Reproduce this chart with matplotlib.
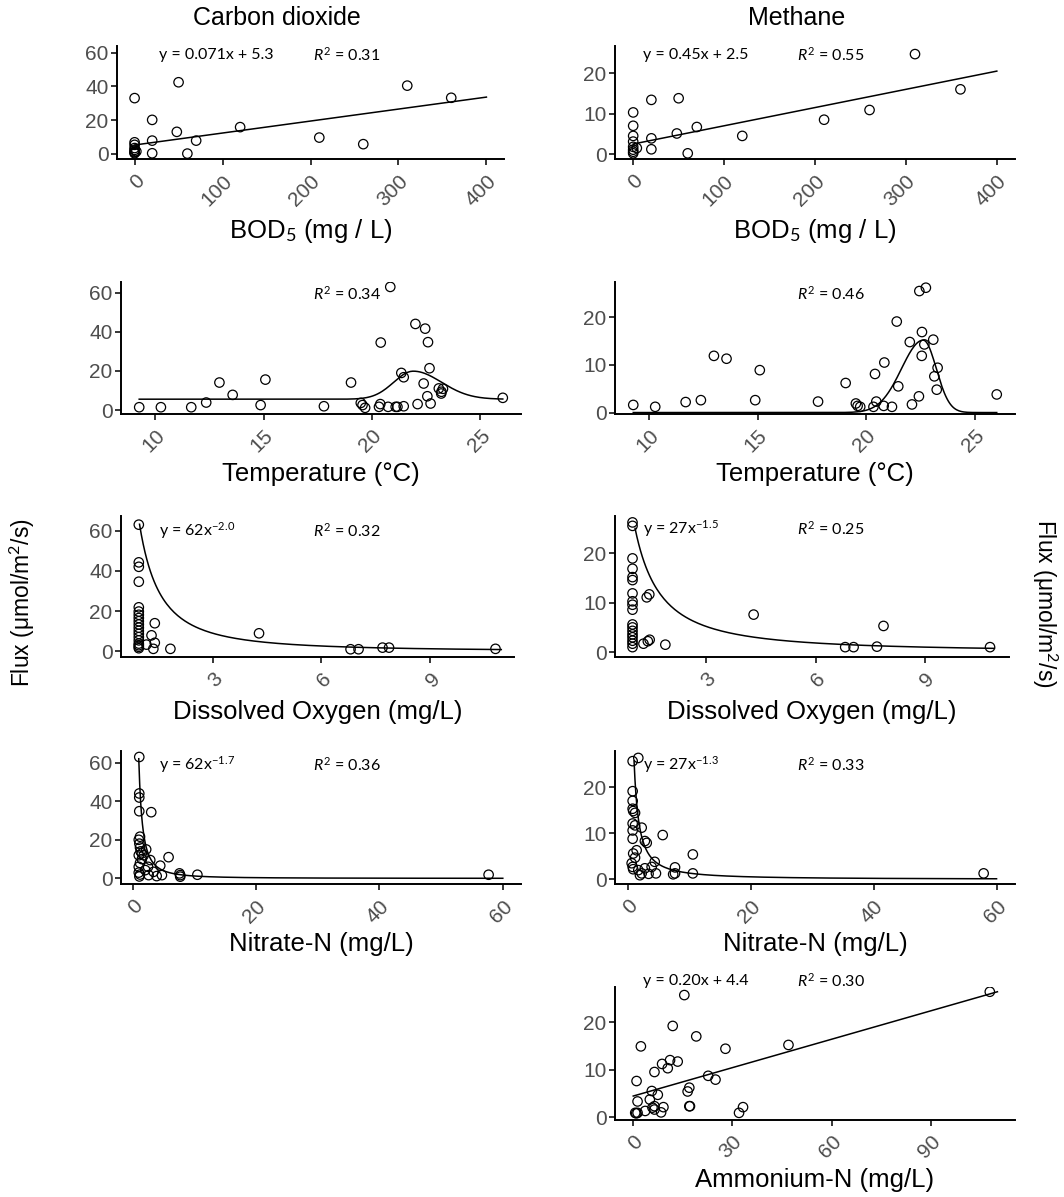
import numpy as np
import matplotlib.pyplot as plt

plt.rcParams['font.family'] = ['Liberation Sans', 'DejaVu Sans']
plt.rcParams['mathtext.fontset'] = 'custom'
plt.rcParams['mathtext.rm'] = 'Lato'
plt.rcParams['mathtext.it'] = 'Lato:italic'
plt.rcParams['mathtext.bf'] = 'Lato:bold'

# ---- data ----
co2_bod_x = [0, 50, 20, 48, 20, 70, 120, 210, 260, 310, 360, 20, 60, 0, 0, 0, 0, 0, 0, 2, 0]
co2_bod_y = [33.1, 42.5, 20.2, 13.1, 7.9, 7.9, 15.9, 9.7, 5.8, 40.5, 33.3, 0.4, 0.2, 6.9, 5.4, 2.4, 1.4, 0.4, 0.9, 1.5, 3.5]

ch4_bod_x = [310, 360, 260, 210, 120, 70, 50, 48, 60, 20, 20, 20, 0, 0, 0, 0, 0, 0, 0, 0, 4]
ch4_bod_y = [24.7, 16.0, 10.9, 8.5, 4.5, 6.7, 13.8, 5.1, 0.2, 13.4, 3.9, 1.2, 10.3, 7.0, 4.5, 3.1, 1.1, 0.2, 0.6, 1.8, 1.5]

co2_temp_x = [9.26, 10.26, 11.66, 12.35, 12.96, 13.57, 14.86, 15.08, 17.78, 19.03, 19.48, 19.56,
              19.68, 20.32, 20.38, 20.40, 20.74, 20.84, 21.09, 21.17, 21.46, 21.35, 21.46, 22.0,
              22.1, 22.38, 22.45, 22.55, 22.58, 22.65, 22.7, 23.08, 23.19, 23.27, 23.2, 26.03]
co2_temp_y = [1.5, 1.5, 1.5, 3.9, 14.1, 7.8, 2.6, 15.6, 2.0, 14.1, 3.7, 2.6,
              1.2, 1.7, 3.1, 34.5, 1.7, 62.9, 1.7, 1.7, 2.0, 19.0, 16.8, 44.0,
              3.1, 13.6, 41.6, 7.1, 34.7, 21.4, 3.4, 11.1, 8.5, 10.9, 9.4, 6.3]

ch4_temp_x = [9.28, 10.29, 11.69, 12.39, 12.99, 13.57, 14.89, 15.1, 17.78, 19.05, 19.52, 19.6,
              19.72, 20.33, 20.4, 20.46, 20.8, 20.83, 21.18, 21.4, 21.47, 22.0, 22.1, 22.42,
              22.44, 22.74, 22.56, 22.55, 22.67, 23.08, 23.28, 23.13, 23.24, 26.0]
ch4_temp_y = [1.6, 1.2, 2.2, 2.6, 11.9, 11.3, 2.6, 8.9, 2.3, 6.2, 1.9, 1.4,
              1.2, 1.2, 8.1, 2.3, 1.4, 10.5, 1.2, 19.1, 5.5, 14.8, 1.7, 3.4,
              25.5, 26.2, 16.9, 11.9, 14.3, 15.3, 9.4, 7.6, 4.8, 3.8]

co2_do_x = [0.97] * 19 + [1.41, 1.32, 1.18, 1.37, 1.41, 1.84, 4.28, 6.8, 7.02, 7.68, 7.86, 10.79]
co2_do_y = [62.9, 44.2, 42.0, 34.6, 21.9, 19.8, 18.2, 16.6, 15.0, 13.4, 11.8, 10.2, 8.7, 7.1,
            5.5, 3.9, 3.1, 2.3, 1.6,
            14.0, 8.0, 3.4, 1.3, 4.3, 1.3, 9.0, 1.1, 1.1, 1.9, 1.9, 1.3]

ch4_do_x = [0.98] * 18 + [1.37, 1.44, 1.28, 1.4, 1.45, 1.88, 4.3, 6.81, 7.04, 7.68, 7.86, 10.78]
ch4_do_y = [26.3, 25.6, 19.0, 16.9, 15.2, 14.6, 11.9, 10.3, 9.6, 8.6, 5.6, 5.0, 4.3, 3.6,
            3.0, 2.3, 1.7, 1.0,
            11.1, 11.7, 1.7, 2.2, 2.5, 1.5, 7.6, 1.0, 1.0, 1.1, 5.3, 1.0]

co2_no3_x = [1.08, 1.08, 1.08, 1.08, 3.02, 1.2, 1.0, 1.1, 1.2, 1.3, 1.0, 1.5, 1.2, 1.0, 1.0,
             1.2, 1.1, 5.83, 4.48, 2.86, 2.05, 2.6, 3.4, 3.9, 4.75, 7.72, 7.72, 7.6, 10.5,
             57.7, 1.5, 2.2, 1.8, 2.5]
co2_no3_y = [62.9, 44.0, 41.9, 34.8, 34.3, 21.6, 20.0, 18.0, 16.0, 14.0, 12.0, 10.0, 8.0, 6.0,
             3.0, 2.0, 1.0, 11.0, 6.6, 9.5, 4.3, 1.7, 3.4, 1.2, 1.7, 1.7, 0.9, 2.6, 1.9,
             1.9, 13.0, 15.0, 12.0, 6.0]

ch4_no3_x = [0.81, 1.73, 0.81, 0.81, 0.81, 0.9, 1.2, 0.81, 1.2, 0.81, 0.81, 2.28, 2.8, 3.1,
             5.7, 1.46, 0.9, 1.2, 0.65, 0.81, 0.9, 1.73, 2.28, 2.0, 2.8, 3.9, 4.4, 3.4, 4.6,
             7.7, 7.7, 7.4, 10.6, 10.6, 57.9]
ch4_no3_y = [25.6, 26.3, 19.1, 17.0, 15.3, 14.8, 14.4, 12.1, 11.7, 10.6, 8.8, 11.2, 8.3, 7.9,
             9.6, 6.3, 5.6, 4.7, 3.5, 2.7, 2.2, 2.0, 1.3, 0.9, 2.4, 2.7, 3.8, 1.2, 1.3,
             2.6, 1.3, 1.1, 5.4, 1.3, 1.3]

ch4_nh4_x = [107.7, 15.6, 12.1, 19.2, 2.5, 28.0, 47.0, 8.9, 11.3, 13.6, 10.6, 6.6, 1.2, 22.8,
             25.0, 17.1, 16.6, 5.8, 7.6, 5.2, 1.5, 6.6, 6.6, 6.0, 9.3, 8.6, 3.8, 0.8, 1.5,
             1.1, 17.1, 17.3, 32.1, 33.3]
ch4_nh4_y = [26.4, 25.7, 19.2, 17.0, 14.9, 14.4, 15.2, 11.2, 12.0, 11.7, 10.3, 9.5, 7.6, 8.7,
             7.9, 6.2, 5.4, 5.5, 4.7, 3.7, 3.3, 2.3, 1.6, 2.0, 2.1, 1.0, 1.3, 0.9, 0.9,
             0.8, 2.3, 2.3, 0.9, 2.1]

# fitted curves (coefficients as drawn)
bod_co2_fit = (0.071, 5.3)
bod_ch4_fit = (0.045, 2.5)
nh4_ch4_fit = (0.20, 4.4)
temp_co2_fit = (5.6, 14.3, 21.9, 0.9, 1.3)   # base, amp, centre, sd left, sd right
temp_ch4_fit = (0.0, 15.2, 22.62, 1.0, 0.6)
do_co2_fit = (62, -1.75)
do_ch4_fit = (27, -1.5)
no3_co2_fit = (62, -1.7)
no3_ch4_fit = (27, -1.3)

W, H = 1064, 1197
fig = plt.figure(figsize=(W / 100, H / 100), dpi=100)
GREY = '#4D4D4D'


def gauss(x, p):
    base, amp, c, sl, sr = p
    sd = np.where(x < c, sl, sr)
    return base + amp * np.exp(-(x - c) ** 2 / (2 * sd ** 2))


def panel(box, x, y, xlim, ylim, xticks, yticks, xlabel, label_off):
    left, top, right, bottom = box
    ax = fig.add_axes([left / W, 1 - bottom / H, (right - left) / W, (bottom - top) / H])
    ax.scatter(x, y, s=46, facecolors='none', edgecolors='black', linewidths=0.9, zorder=3)
    ax.set_xlim(*xlim)
    ax.set_ylim(*ylim)
    ax.set_xticks(xticks)
    ax.set_yticks(yticks)
    for s in ['top', 'right']:
        ax.spines[s].set_visible(False)
    for s in ['left', 'bottom']:
        ax.spines[s].set_linewidth(1.4)
    ax.tick_params(axis='both', length=4, width=1.1, colors='black', labelcolor=GREY, labelsize=15)
    ax.tick_params(axis='y', pad=2)
    ax.tick_params(axis='x', pad=5)
    for lab in ax.get_xticklabels():
        lab.set_rotation(45)
        lab.set_ha('right')
        lab.set_va('top')
        lab.set_rotation_mode('anchor')
    ax.set_xlabel(xlabel, fontsize=18.5)
    ax.xaxis.set_label_coords(0.5, -label_off / (bottom - top))
    ax.xaxis.label.set_va('center')
    return ax


def note(px, py, s):
    fig.text(px / W, 1 - py / H, s, fontsize=11.5, family='Lato', va='center', ha='left')


# row 1: BOD
ax = panel((117, 46, 504, 159), co2_bod_x, co2_bod_y, (-20, 420), (-3, 64),
           [0, 100, 200, 300, 400], [0, 20, 40, 60], r'BOD$_5$ (mg / L)', 72)
xx = np.linspace(0, 400, 50)
ax.plot(xx, bod_co2_fit[0] * xx + bod_co2_fit[1], color='black', lw=1.1)
note(159, 55, 'y = 0.071x + 5.3')
note(313, 55, r'$R^2$ = 0.31')

ax = panel((615, 46, 1015, 159), ch4_bod_x, ch4_bod_y, (-20, 420), (-1.2, 26.7),
           [0, 100, 200, 300, 400], [0, 10, 20], r'BOD$_5$ (mg / L)', 72)
ax.plot(xx, bod_ch4_fit[0] * xx + bod_ch4_fit[1], color='black', lw=1.1)
note(643, 55, 'y = 0.45x + 2.5')
note(797, 55, r'$R^2$ = 0.55')

# row 2: temperature
ax = panel((121, 282, 521, 413.5), co2_temp_x, co2_temp_y, (8.42, 26.87), (-1.7, 65.4),
           [10, 15, 20, 25], [0, 20, 40, 60], 'Temperature (°C)', 61)
xt = np.linspace(min(co2_temp_x), max(co2_temp_x), 300)
ax.plot(xt, gauss(xt, temp_co2_fit), color='black', lw=1.1)
note(313, 294, r'$R^2$ = 0.34')

ax = panel((615, 282, 1015, 413.5), ch4_temp_x, ch4_temp_y, (8.44, 26.84), (-0.2, 27.4),
           [10, 15, 20, 25], [0, 10, 20], 'Temperature (°C)', 61)
xt = np.linspace(min(ch4_temp_x), max(ch4_temp_x), 300)
ax.plot(xt, gauss(xt, temp_ch4_fit), color='black', lw=1.1)
note(797, 294, r'$R^2$ = 0.46')

# row 3: dissolved oxygen
ax = panel((121, 516, 514, 657), co2_do_x, co2_do_y, (0.48, 11.3), (-2.75, 67.2),
           [3, 6, 9], [0, 20, 40, 60], 'Dissolved Oxygen (mg/L)', 55)
xd = np.linspace(0.99, 10.95, 200)
ax.plot(xd, do_co2_fit[0] * xd ** do_co2_fit[1], color='black', lw=1.1)
note(159, 531, r'y = 62x$^{-2.0}$')
note(313, 531, r'$R^2$ = 0.32')

ax = panel((615, 516, 1009, 657), ch4_do_x, ch4_do_y, (0.5, 11.3), (-1, 27.6),
           [3, 6, 9], [0, 10, 20], 'Dissolved Oxygen (mg/L)', 55)
xd = np.linspace(1.05, 10.9, 200)
ax.plot(xd, do_ch4_fit[0] * xd ** do_ch4_fit[1], color='black', lw=1.1)
note(643, 529, r'y = 27x$^{-1.5}$')
note(797, 529, r'$R^2$ = 0.25')

# row 4: nitrate
ax = panel((121, 751, 521, 884), co2_no3_x, co2_no3_y, (-1.88, 62.95), (-2.9, 66),
           [0, 20, 40, 60], [0, 20, 40, 60], 'Nitrate-N (mg/L)', 60)
xn = np.linspace(1.0, 60, 400)
ax.plot(xn, no3_co2_fit[0] * xn ** no3_co2_fit[1], color='black', lw=1.1)
note(159, 765, r'y = 62x$^{-1.7}$')
note(313, 765, r'$R^2$ = 0.36')

ax = panel((615, 751, 1015, 884), ch4_no3_x, ch4_no3_y, (-2.06, 63), (-1, 27.8),
           [0, 20, 40, 60], [0, 10, 20], 'Nitrate-N (mg/L)', 60)
xn = np.linspace(1.04, 60, 400)
ax.plot(xn, no3_ch4_fit[0] * xn ** no3_ch4_fit[1], color='black', lw=1.1)
note(643, 765, r'y = 27x$^{-1.3}$')
note(797, 765, r'$R^2$ = 0.33')

# row 5: ammonium
ax = panel((615, 987, 1015, 1119.5), ch4_nh4_x, ch4_nh4_y, (-5.3, 115.3), (-0.5, 27.4),
           [0, 30, 60, 90], [0, 10, 20], 'Ammonium-N (mg/L)', 60)
xa = np.linspace(0.2, 110, 50)
ax.plot(xa, nh4_ch4_fit[0] * xa + nh4_ch4_fit[1], color='black', lw=1.1)
note(643, 981, 'y = 0.20x + 4.4')
note(797, 981, r'$R^2$ = 0.30')

# titles and shared y labels
fig.text(277 / W, 1 - 18 / H, 'Carbon dioxide', fontsize=18, ha='center', va='center')
fig.text(797 / W, 1 - 18 / H, 'Methane', fontsize=18, ha='center', va='center')
fig.text(22 / W, 1 - 603 / H, r'Flux (μmol/m$^2$/s)', fontsize=16.5, rotation=90, ha='center', va='center')
fig.text(1045 / W, 1 - 603 / H, r'Flux (μmol/m$^2$/s)', fontsize=16.5, rotation=270, ha='center', va='center')

fig.savefig('out.png', dpi=100)
